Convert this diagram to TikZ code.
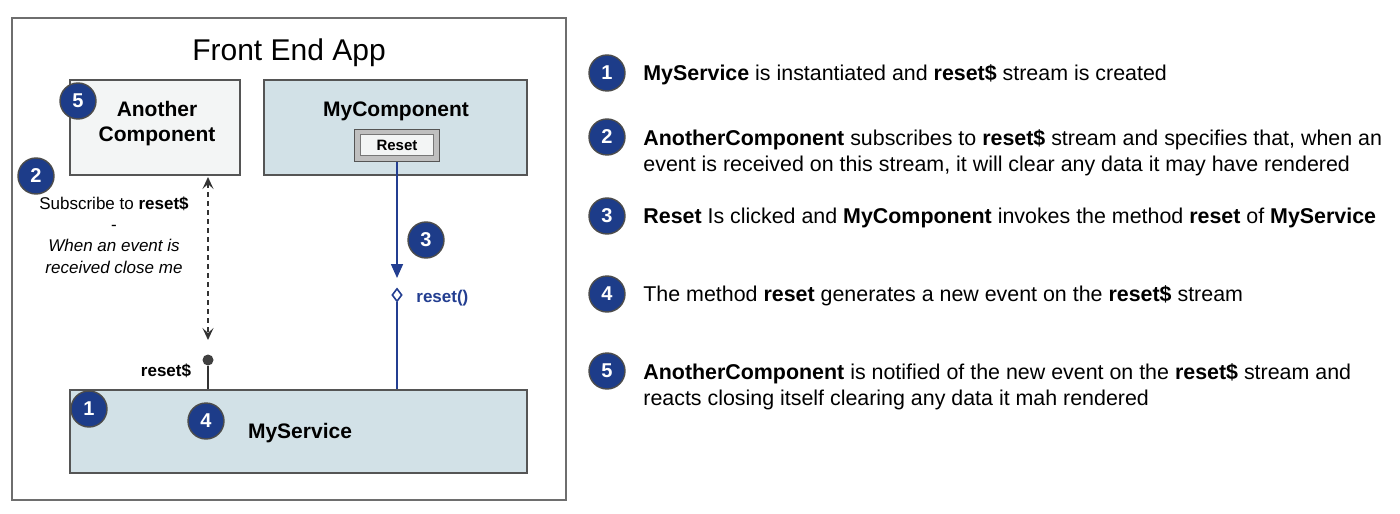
\documentclass[tikz,border=0pt]{standalone}
\usepackage{fontspec}
\setmainfont{Liberation Sans}
\usetikzlibrary{arrows.meta,shapes.geometric}
\definecolor{badgeblue}{RGB}{29,60,137}
\definecolor{lineblue}{RGB}{35,62,145}
\definecolor{boxblue}{RGB}{210,225,231}
\definecolor{boxgray}{RGB}{243,245,245}
\definecolor{edgegray}{RGB}{85,85,85}
\newcommand\pu{0.5pt}
\begin{document}
\begin{tikzpicture}[x=0.5pt,y=-0.5pt,
  frame/.style={draw=edgegray!85, line width=0.8pt, fill=white, inner sep=0},
  box/.style={draw=edgegray, line width=0.8pt, inner sep=0},
  badge/.style={circle, fill=badgeblue, draw=gray!60!black, line width=0.7pt, minimum size=18pt, inner sep=0, text=white, font=\fontsize{10}{11}\selectfont\bfseries},
  lbl/.style={font=\fontsize{10.5}{12.5}\selectfont\bfseries, align=center},
  note/.style={font=\fontsize{8.5}{10.7}\selectfont, align=center},
  item/.style={anchor=west, font=\fontsize{10.7}{13}\selectfont, align=left, inner sep=0},
  bline/.style={draw=lineblue, line width=0.8pt},
  dasharrow/.style={draw=black!80, line width=0.7pt, dash pattern=on 2.5pt off 2pt, {Stealth[length=6pt,width=5.5pt,inset=2.5pt]}-{Stealth[length=6pt,width=5.5pt,inset=2.5pt]}}
]
\useasboundingbox (0,0) rectangle (1400,513);

% frame and title
\node[frame, minimum width=554*\pu, minimum height=482*\pu] (app) at (289,259) {};
\node[font=\fontsize{15}{18}\selectfont] (title) at (289,53) {Front End App};

% Another Component
\node[box, fill=boxgray, minimum width=170*\pu, minimum height=95*\pu] (ac) at (155,127.5) {};
\node[lbl] (actext) at (157,124) {Another\\Component};

% MyComponent
\node[box, fill=boxblue, minimum width=263*\pu, minimum height=95*\pu] (mc) at (395.5,127.5) {};
\node[lbl] (mctext) at (396,111) {MyComponent};
\node[draw=edgegray, fill=gray!50, line width=0.6pt, minimum width=85*\pu, minimum height=32*\pu, inner sep=0] (btnout) at (397,145.5) {};
\node[draw=edgegray!80, fill=boxgray, line width=0.5pt, minimum width=73*\pu, minimum height=21*\pu, inner sep=0, font=\fontsize{7.5}{9}\selectfont\bfseries] (btn) at (397,145.5) {Reset};

% MyService
\node[box, fill=boxblue, minimum width=457*\pu, minimum height=83*\pu] (ms) at (298.5,431.5) {};
\node[lbl] (mstext) at (300,433) {MyService};

% reset$ stream
\node[circle, fill=black!75, minimum size=11*\pu, inner sep=0] (dot) at (208,360) {};
\draw[black!80, line width=0.8pt] (dot) -- (dot |- ms.north);
\node[font=\fontsize{8.5}{10}\selectfont\bfseries] (rslbl) at (166,371) {reset\$};
\coordinate (dtop) at (208,177);
\coordinate (dbot) at (208,340);
\draw[dasharrow] (dtop) -- (dbot);

% subscribe note
\node[note] (sub) at (114,235) {Subscribe to \textbf{reset\$}\\-\\\textit{When an event is}\\\textit{received close me}};

% reset() call
\coordinate (tip3) at (397,278);
\node[diamond, draw=lineblue, fill=white, line width=0.8pt, minimum width=10*\pu, minimum height=13*\pu, inner sep=0] (dia) at (397,295) {};
\draw[bline, -{Triangle[length=7pt,width=6pt]}] (btnout.south) -- (tip3);
\draw[bline] (dia.south) -- (dia.south |- ms.north);
\node[anchor=west, inner sep=0, text=lineblue, font=\fontsize{8.5}{10}\selectfont\bfseries] (rlbl) at (416,298) {reset()};

% badges in diagram
\node[badge] (b5) at (78,101) {5};
\node[badge] (b2) at (36,176) {2};
\node[badge] (b3) at (426,240) {3};
\node[badge] (b1) at (89,409) {1};
\node[badge] (b4) at (206,421) {4};

% legend
\node[badge] (l1) at (607,73) {1};
\node[badge] (l2) at (607,137) {2};
\node[badge] (l3) at (607,216) {3};
\node[badge] (l4) at (607,294) {4};
\node[badge] (l5) at (607,371) {5};

\node[item] (t1) at (643,75) {\textbf{MyService} is instantiated and \textbf{reset\$} stream is created};
\node[item] (t2) at (643,153) {\textbf{AnotherComponent} subscribes to \textbf{reset\$} stream and specifies that, when an\\event is received on this stream, it will clear any data it may have rendered};
\node[item] (t3) at (643,218) {\textbf{Reset} Is clicked and \textbf{MyComponent} invokes the method \textbf{reset} of \textbf{MyService}};
\node[item] (t4) at (643,296) {The method \textbf{reset} generates a new event on the \textbf{reset\$} stream};
\node[item] (t5) at (643,387) {\textbf{AnotherComponent} is notified of the new event on the \textbf{reset\$} stream and\\reacts closing itself clearing any data it mah rendered};
\end{tikzpicture}
\end{document}
